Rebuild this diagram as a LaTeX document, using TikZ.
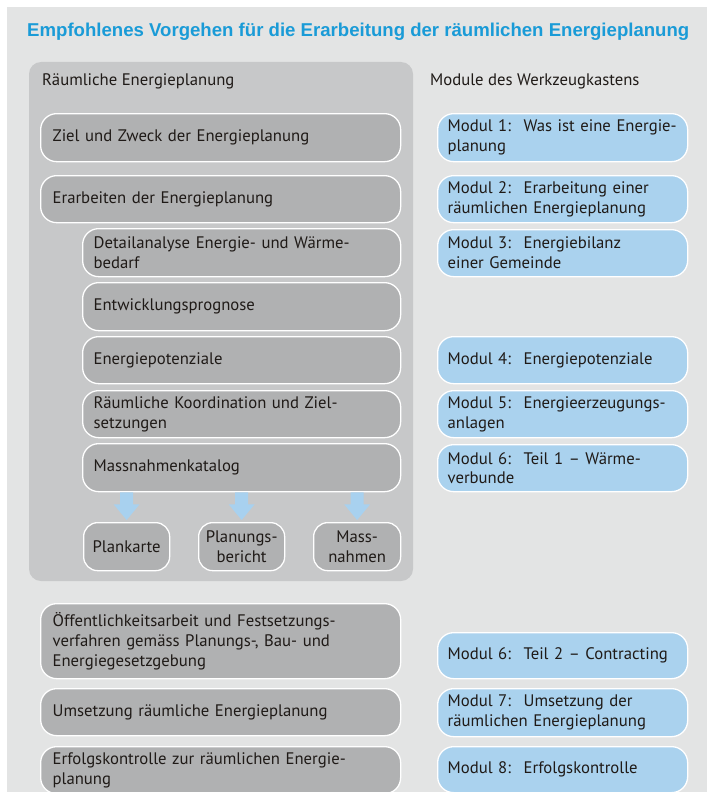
\documentclass[tikz,border=0pt]{standalone}
\usepackage{fontspec}
\setmainfont{PT Sans}
\newfontfamily\headfont{Liberation Sans}
\usetikzlibrary{calc}
\definecolor{bgcolor}{HTML}{E3E4E4}
\definecolor{panelcolor}{HTML}{C7C8C9}
\definecolor{boxgray}{HTML}{B0B1B2}
\definecolor{modblue}{HTML}{AAD2EE}
\definecolor{arrowblue}{HTML}{A8D1EF}
\definecolor{textdark}{HTML}{1F1A17}
\definecolor{titleblue}{HTML}{1A9BD7}
\newcommand\bodyfont{\fontsize{16.7}{20}\selectfont}
\newcommand\modlabel[1]{\makebox[76pt][l]{#1}}
% block arrow from the bottom of #1 down to the top of #2
\newcommand\blockarrow[2]{%
  \fill[arrowblue] ($(#1.south -| #2.north)+(-6.5,0)$) -- ++(0,12) -- ++(-6.5,0)
    -- ($(#2.north)+(0,-2)$) -- ($(#1.south -| #2.north)+(13,12)$) -- ++(-6.5,0)
    -- ++(0,-12) -- cycle;}
\begin{document}
\begin{tikzpicture}[x=1pt,y=-1pt,
  every node/.style={text=textdark},
  graybox/.style={draw=white, line width=1.3, fill=boxgray, rounded corners=16,
    anchor=north west, inner xsep=12, inner ysep=0, align=left, font=\bodyfont},
  subbox/.style={graybox, inner xsep=11, text width=296, minimum height=47},
  mainbox/.style={graybox, text width=336},
  outbox/.style={graybox, rounded corners=14, inner xsep=3, text width=80,
    minimum height=48, align=center},
  modbox/.style={graybox, fill=modblue, inner xsep=10, text width=230}]
\useasboundingbox (0,0) rectangle (707,792);
\fill[bgcolor] (7,7) rectangle (707,792);
\fill[panelcolor, rounded corners=12] (29,62) rectangle (413,581);

\node[anchor=base west, inner sep=0, text=titleblue,
  font=\headfont\bfseries\fontsize{18.6}{22}\selectfont] (title) at (27,37)
  {Empfohlenes Vorgehen für die Erarbeitung der räumlichen Energieplanung};
\node[anchor=base west, inner sep=0, font=\bodyfont] (panelhead) at (42,85)
  {Räumliche Energieplanung};
\node[anchor=base west, inner sep=0, font=\bodyfont] (modhead) at (430,85)
  {Module des Werkzeugkastens};

% steps of the spatial energy planning
\node[mainbox, minimum height=48] (ziel) at (40,113) {Ziel und Zweck der Energieplanung};
\node[mainbox, minimum height=47] (erarb) at (40,175) {Erarbeiten der Energieplanung};
\node[subbox, minimum height=48] (detail) at (82,228) {Detailanalyse Energie- und Wärme-\\bedarf};
\node[subbox, minimum height=48] (prognose) at (82,282) {Entwicklungsprognose};
\node[subbox] (potenziale) at (82,336) {Energiepotenziale};
\node[subbox] (koord) at (82,390) {Räumliche Koordination und Ziel-\\setzungen};
\node[subbox, minimum height=48] (katalog) at (82,443) {Massnahmenkatalog\\[4pt]};

\node[outbox] (plan) at (83,522) {Plankarte};
\node[outbox] (bericht) at (198,522) {Planungs-\\bericht};
\node[outbox, text width=81] (mass) at (313,522) {Mass-\\nahmen};
\blockarrow{katalog}{plan}
\blockarrow{katalog}{bericht}
\blockarrow{katalog}{mass}

\node[mainbox, minimum height=75] (oeff) at (40,603)
  {Öffentlichkeitsarbeit und Festsetzungs-\\verfahren gemäss Planungs-, Bau- und\\Energiegesetzgebung};
\node[mainbox, minimum height=47] (umsetz) at (40,688) {Umsetzung räumliche Energieplanung};
\node[mainbox, minimum height=47] (erfolg) at (40,746) {Erfolgskontrolle zur räumlichen Energie-\\planung};

% toolbox modules
\node[modbox, minimum height=48] (m1) at (437,113) {\modlabel{Modul 1:}Was ist eine Energie-\\planung};
\node[modbox, minimum height=47] (m2) at (437,175) {\modlabel{Modul 2:}Erarbeitung einer\\räumlichen Energieplanung};
\node[modbox, minimum height=47] (m3) at (437,229) {\modlabel{Modul 3:}Energiebilanz\\einer Gemeinde};
\node[modbox, minimum height=47] (m4) at (437,336) {\modlabel{Modul 4:}Energiepotenziale};
\node[modbox, minimum height=47] (m5) at (437,390) {\modlabel{Modul 5:}Energieerzeugungs-\\anlagen};
\node[modbox, minimum height=47] (m6a) at (437,444) {\modlabel{Modul 6:}Teil 1 – Wärme-\\verbunde};
\node[modbox, minimum height=46] (m6b) at (437,632) {\modlabel{Modul 6:}Teil 2 – Contracting};
\node[modbox, minimum height=48] (m7) at (437,688) {\modlabel{Modul 7:}Umsetzung der\\räumlichen Energieplanung};
\node[modbox, minimum height=46] (m8) at (437,746) {\modlabel{Modul 8:}Erfolgskontrolle};
\end{tikzpicture}
\end{document}
